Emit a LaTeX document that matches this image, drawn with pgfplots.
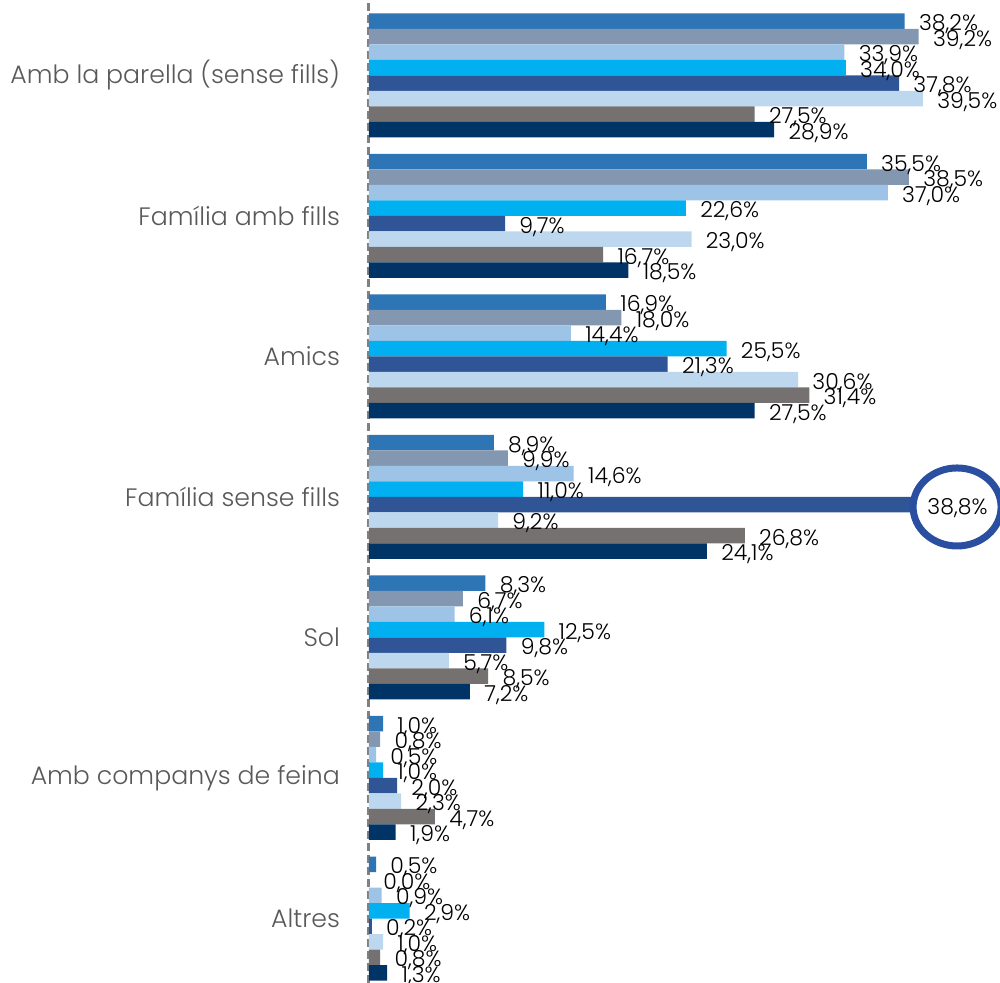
\documentclass[border=0pt]{standalone}
\usepackage{pgfplots}
\pgfplotsset{compat=1.18}
\usetikzlibrary{shapes.geometric}
\usepackage{fontspec}
\setmainfont{Poppins}[UprightFont=* Light]
\definecolor{c1}{HTML}{2E75B6}
\definecolor{c2}{HTML}{8497B0}
\definecolor{c3}{HTML}{9DC3E6}
\definecolor{c4}{HTML}{00B0F0}
\definecolor{c5}{HTML}{2F5597}
\definecolor{c6}{HTML}{BDD7EE}
\definecolor{c7}{HTML}{767171}
\definecolor{c8}{HTML}{003366}
\definecolor{circ}{HTML}{2B4FA0}
\definecolor{labgray}{HTML}{595959}
\begin{document}
\begin{tikzpicture}
\begin{axis}[
  scale only axis, width=315.5pt, height=491.5pt,
  xbar, bar width=7.75pt,
  xmin=0, xmax=45, ymin=-0.459, ymax=6.537,
  axis x line=none, axis y line=left,
  y axis line style={-, color=gray, line width=1.5pt, dash pattern=on 4pt off 2pt},
  ytick={0,1,2,3,4,5,6},
  yticklabels={Altres, Amb companys de feina, Sol, Família sense fills, Amics, Família amb fills, Amb la parella (sense fills)},
  major tick length=0pt,
  yticklabel style={font=\fontsize{12.6}{14}\selectfont, text=labgray, xshift=-11pt},
  point meta=x,
  nodes near coords={\pgfmathprintnumber[fixed, fixed zerofill, precision=1, use comma, assume math mode=true]{\pgfplotspointmeta}\%},
  every node near coord/.append style={anchor=west, inner sep=0pt, xshift=7pt, yshift=-1.5pt, font=\fontsize{11}{12}\selectfont, text=black},
  clip=false,
]
\addplot[draw=none, fill=c1, bar shift=27.125pt] coordinates {(38.2,6) (35.5,5) (16.9,4) (8.9,3) (8.3,2) (1.0,1) (0.5,0)};
\addplot[draw=none, fill=c2, bar shift=19.375pt] coordinates {(39.2,6) (38.5,5) (18.0,4) (9.9,3) (6.7,2) (0.8,1) (0.0,0)};
\addplot[draw=none, fill=c3, bar shift=11.625pt] coordinates {(33.9,6) (37.0,5) (14.4,4) (14.6,3) (6.1,2) (0.5,1) (0.9,0)};
\addplot[draw=none, fill=c4, bar shift=3.875pt] coordinates {(34.0,6) (22.6,5) (25.5,4) (11.0,3) (12.5,2) (1.0,1) (2.9,0)};
\addplot[draw=none, fill=c5, bar shift=-3.875pt] coordinates {(37.8,6) (9.7,5) (21.3,4) (38.8,3) (9.8,2) (2.0,1) (0.2,0)};
\addplot[draw=none, fill=c6, bar shift=-11.625pt] coordinates {(39.5,6) (23.0,5) (30.6,4) (9.2,3) (5.7,2) (2.3,1) (1.0,0)};
\addplot[draw=none, fill=c7, bar shift=-19.375pt] coordinates {(27.5,6) (16.7,5) (31.4,4) (26.8,3) (8.5,2) (4.7,1) (0.8,0)};
\addplot[draw=none, fill=c8, bar shift=-27.125pt] coordinates {(28.9,6) (18.5,5) (27.5,4) (24.1,3) (7.2,2) (1.9,1) (1.3,0)};
\node[draw=circ, line width=3.5pt, ellipse, inner sep=0pt, minimum width=44pt, minimum height=39pt, yshift=-5pt] at (axis cs:41.94,3) {};
\end{axis}
\pgfresetboundingbox
\path[use as bounding box] ([xshift=-184.5pt]current axis.south west) rectangle (current axis.north east);
\end{tikzpicture}
\end{document}
